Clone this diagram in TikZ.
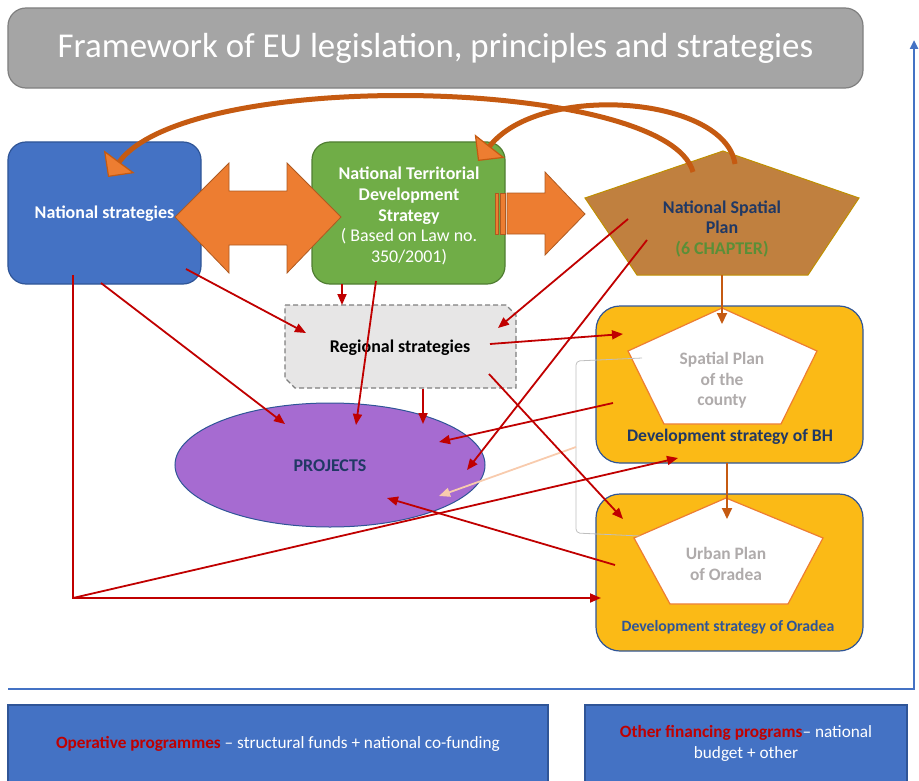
\documentclass[tikz,border=0pt]{standalone}
\usepackage{fontspec}
\setmainfont{Carlito}
\usetikzlibrary{arrows.meta,shapes.geometric}
\definecolor{titlegray}{HTML}{A5A5A5}
\definecolor{titleedge}{HTML}{7F7F7F}
\definecolor{natblue}{HTML}{4472C4}
\definecolor{natedge}{HTML}{2F5597}
\definecolor{ntdsgreen}{HTML}{70AD47}
\definecolor{ntdsedge}{HTML}{507E32}
\definecolor{blockorange}{HTML}{ED7D31}
\definecolor{blockedge}{HTML}{AE5A21}
\definecolor{nspbrown}{HTML}{C0803F}
\definecolor{nspedge}{HTML}{BF9000}
\definecolor{curveorange}{HTML}{C55A11}
\definecolor{regfill}{HTML}{E7E6E6}
\definecolor{projpurple}{HTML}{A66BD1}
\definecolor{gold}{HTML}{FBBA16}
\definecolor{labelgray}{HTML}{AFABAB}
\definecolor{bracketgray}{HTML}{BFBFBF}
\definecolor{navy}{HTML}{203864}
\definecolor{linered}{HTML}{C00000}
\definecolor{peach}{HTML}{F8CBAD}
\definecolor{chaptergreen}{HTML}{5A8F38}

\begin{document}
\begin{tikzpicture}[x=1bp, y=-1bp,
    box/.style={rounded corners=18bp, line width=1.2bp, inner sep=0pt, align=center},
    bold/.style={font=\fontsize{18}{21}\selectfont\bfseries},
    plain/.style={font=\fontsize{18}{21}\selectfont},
    redarr/.style={draw=linered, line width=1.8bp, -{Triangle[length=11bp,width=9bp]}},
    brownarr/.style={draw=curveorange, line width=2bp, -{Triangle[length=11bp,width=10bp]}},
    bigcurve/.style={draw=curveorange, line width=5bp,
      -{Triangle[length=19bp,width=38bp,fill=blockorange,line width=1.2bp]}},
    pent/.style={fill=white, draw=blockorange, line width=1.2bp}]
\useasboundingbox (0,0) rectangle (919,781);

\node[box, fill=titlegray, draw=titleedge, minimum width=855bp, minimum height=80bp,
      font=\fontsize{35}{40}\selectfont, text=white] (title) at (435.5,48)
      {Framework of EU legislation, principles and strategies};

\coordinate (fl) at (8,689);
\coordinate (fc) at (914,689);
\coordinate (ft) at (914,40);
\draw[natblue, line width=2.5bp, -{Triangle[length=9bp,width=8bp]}] (fl) -- (fc) -- (ft);

\node[box, fill=natblue, draw=natedge, minimum width=193bp, minimum height=142bp] (nat) at (104.5,213) {};
\node[box, fill=ntdsgreen, draw=ntdsedge, minimum width=193bp, minimum height=142bp] (ntds) at (408.5,213) {};
\node[bold, text=white] (natlbl) at (104.5,214) {National strategies};
\node[plain, text=white, align=center] (ntdslbl) at (409,216)
      {\bfseries National Territorial\\\bfseries Development\\\bfseries Strategy\\( Based on Law no.\\350/2001)};

\draw[fill=blockorange, draw=blockedge, line width=0.8bp]
  (175,217) -- (229,163) -- (229,191) -- (287,191) -- (287,163) -- (341,217)
  -- (287,273) -- (287,245) -- (229,245) -- (229,273) -- cycle;
\draw[fill=blockorange, draw=blockedge, line width=0.8bp]
  (507,193) -- (545,193) -- (545,172) -- (585,214) -- (545,255) -- (545,234) -- (507,234) -- cycle;
\draw[fill=blockorange, draw=blockedge, line width=0.6bp] (495,193) rectangle (498,234);
\draw[fill=blockorange, draw=blockedge, line width=0.6bp] (500.5,193) rectangle (505,234);

\draw[fill=nspbrown, draw=nspedge, line width=1bp]
  (723,151) -- (859,198) -- (808,275) -- (637,275) -- (585,198) -- cycle;
\node[bold, text=navy, align=center] (nsp) at (722,229)
      {National Spatial\\Plan\\\textcolor{chaptergreen}{(6 CHAPTER)}};

\draw[fill=regfill, draw=titleedge, dash pattern=on 5bp off 3bp, line width=1.2bp]
  (285,305) -- (506,305) -- (516,315) -- (516,388) -- (295,388) -- (285,378) -- cycle;
\node[bold] (reg) at (400,348) {Regional strategies};

\node[ellipse, fill=projpurple, draw=natedge, line width=1bp,
      minimum width=310bp, minimum height=124bp] (proj) at (330,465) {};
\node[bold, text=navy] (projlbl) at (330,466) {PROJECTS};

\node[box, rounded corners=24bp, fill=gold, draw=natedge, minimum width=267bp, minimum height=157bp] (bh) at (729.5,384.5) {};
\node[box, rounded corners=24bp, fill=gold, draw=natedge, minimum width=267bp, minimum height=157bp] (ora) at (729.5,572.5) {};
\draw[pent] (722,308) -- (817,351) -- (781,424) -- (664,424) -- (628,351) -- cycle;
\draw[pent] (726,498) -- (823,538) -- (788,604) -- (670,604) -- (634,538) -- cycle;
\node[bold, text=labelgray, align=center, font=\fontsize{17.5}{20.5}\selectfont\bfseries] (county) at (722,380.5)
      {Spatial Plan\\of the\\county};
\node[bold, text=labelgray, align=center, font=\fontsize{17.5}{21}\selectfont\bfseries] (urban) at (726,563.5) {Urban Plan\\of Oradea};
\node[bold, text=navy, font=\fontsize{17.7}{21}\selectfont\bfseries] (bhlbl) at (730,437) {Development strategy of BH};
\node[bold, text=natedge, font=\fontsize{15.8}{19}\selectfont\bfseries] (oralbl) at (728,627) {Development strategy of Oradea};

\draw[draw=bracketgray, line width=0.8bp, rounded corners=4bp]
  (642,358) -- (576,361) -- (576,533) -- (640,536);

\coordinate (nsp1) at (722,275);
\coordinate (bh1) at (722,324);
\coordinate (bh2) at (727,463);
\coordinate (ora1) at (727,519);
\draw[brownarr] (nsp1) -- (bh1);
\draw[brownarr] (bh2) -- (ora1);

\coordinate (nat1) at (186,269);
\coordinate (nat2) at (101,283);
\coordinate (nat3) at (73,275);
\coordinate (corner) at (73,598);
\coordinate (ntds1) at (342,284);
\coordinate (ntds2) at (376,281);
\coordinate (reg1) at (306,333);
\coordinate (reg2) at (342,305);
\coordinate (reg3) at (498,328);
\coordinate (reg4) at (423,389);
\coordinate (reg5) at (490,344);
\coordinate (reg6) at (489,374);
\coordinate (proj1) at (285,424);
\coordinate (proj2) at (356,425);
\coordinate (proj3) at (423,424);
\coordinate (proj4) at (467,470);
\coordinate (proj5) at (439,442);
\coordinate (proj6) at (387,498);
\coordinate (proj7) at (439,496);
\coordinate (nsp2) at (628,219);
\coordinate (nsp3) at (647,240);
\coordinate (bh3) at (623,334);
\coordinate (bh4) at (613,403);
\coordinate (bh5) at (678,458);
\coordinate (ora2) at (623,519);
\coordinate (ora3) at (615,565);
\coordinate (ora4) at (601,598);
\coordinate (brk) at (576,447);

\draw[draw=peach, line width=1.8bp, -{Triangle[length=11bp,width=9bp]}] (brk) -- (proj7);
\draw[redarr] (nat1) -- (reg1);
\draw[redarr] (nat2) -- (proj1);
\draw[redarr] (nat3) -- (corner) -- (ora4);
\draw[redarr] (corner) -- (bh5);
\draw[redarr] (ntds1) -- (reg2);
\draw[redarr] (ntds2) -- (proj2);
\draw[redarr] (reg4) -- (proj3);
\draw[redarr] (nsp2) -- (reg3);
\draw[redarr] (nsp3) -- (proj4);
\draw[redarr] (reg5) -- (bh3);
\draw[redarr] (reg6) -- (ora2);
\draw[redarr] (bh4) -- (proj5);
\draw[redarr] (ora3) -- (proj6);

\coordinate (nspa) at (693,172);
\coordinate (nspb) at (735,164);
\coordinate (nat4) at (108,177);
\coordinate (ntds3) at (478,161);
\draw[bigcurve] (nspa) .. controls (668,78) and (190,66) .. (nat4);
\draw[bigcurve] (nspb) .. controls (725,96) and (540,82) .. (ntds3);

\node[box, rounded corners=0pt, fill=natblue, draw=natedge, minimum width=540bp, minimum height=80bp] (opbox) at (278,745) {};
\node[box, rounded corners=0pt, fill=natblue, draw=natedge, minimum width=322bp, minimum height=80bp] (othbox) at (746,745) {};
\node[plain, font=\fontsize{17.3}{21}\selectfont, text=white] (oplbl) at (278,744)
      {\textcolor{linered}{\bfseries Operative programmes} – structural funds + national co-funding};
\node[plain, font=\fontsize{17.3}{21}\selectfont, text=white, align=center] (othlbl) at (746,743.5)
      {\textcolor{linered}{\bfseries Other financing programs}– national\\budget + other};
\end{tikzpicture}
\end{document}
